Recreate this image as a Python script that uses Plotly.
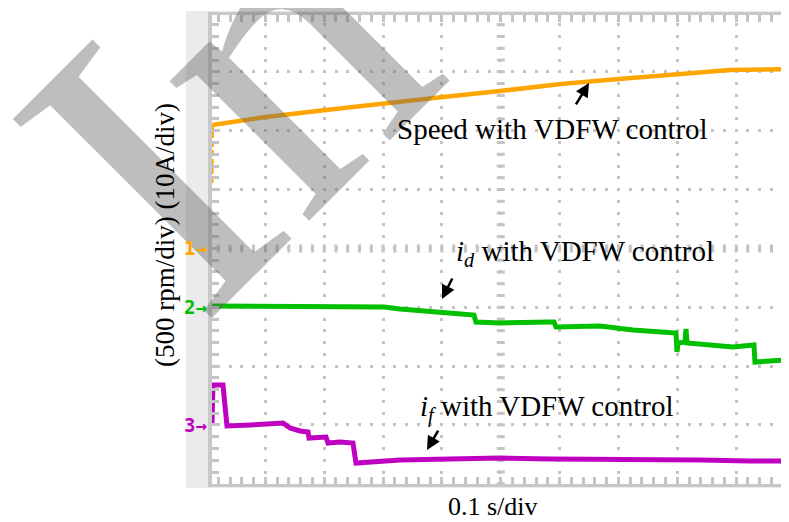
import plotly.graph_objects as go

# ---------------- data read from the scope screen ----------------
# time in seconds (0.1 s/div)
speed_t = [0.0093, 0.0102, 0.1011, 0.2031, 0.3016, 0.4019, 0.4987, 0.6024, 0.7009, 0.8012, 0.8895, 0.9898]
speed_rpm = [556, 1049, 1116, 1176, 1235, 1287, 1337, 1397, 1439, 1482, 1515, 1524]

id_t = [0.0093, 0.1011, 0.2031, 0.3016, 0.3288, 0.3849, 0.4477, 0.4545, 0.4579, 0.4987, 0.5837,
        0.5905, 0.5939, 0.6686, 0.7247, 0.7978, 0.7995, 0.8012, 0.8131, 0.8148, 0.8165, 0.8521,
        0.8946, 0.9303, 0.9320, 0.9864, 0.9898]
id_A = [0.21, 0.21, 0.21, 0.04, -0.30, -0.81, -1.32, -1.32, -2.51, -2.68, -2.51,
        -2.51, -3.35, -3.19, -3.87, -4.38, -7.60, -6.07, -5.90, -3.70, -6.07, -6.41,
        -6.75, -6.41, -9.30, -8.96, -8.62]

if_t = [0.0093, 0.0110, 0.0280, 0.0348, 0.0739, 0.1300, 0.1419, 0.1589, 0.1725, 0.1742, 0.2031,
        0.2065, 0.2268, 0.2489, 0.2540, 0.3288, 0.4138, 0.4987, 0.5837, 0.6686, 0.7536, 0.8386,
        0.9235, 0.9898]
if_A = [0.33, 6.79, 6.79, -0.18, -0.01, 0.33, -0.52, -1.03, -1.20, -2.22, -2.05,
        -3.07, -2.90, -3.07, -6.47, -5.96, -5.79, -5.62, -5.79, -5.79, -5.96, -5.96,
        -6.13, -6.13]

SPEED_SCALE = 500.0   # rpm/div
CURRENT_SCALE = 10.0  # A/div
CH1_OFFSET, CH2_OFFSET, CH3_OFFSET = 0.0, -1.0, -3.0   # channel ground markers (div)

speed_div = [v / SPEED_SCALE + CH1_OFFSET for v in speed_rpm]
id_div = [v / CURRENT_SCALE + CH2_OFFSET for v in id_A]
if_div = [v / CURRENT_SCALE + CH3_OFFSET for v in if_A]

ORANGE = "#FFA500"
GREEN = "#00C000"
MAGENTA = "#C000C0"
GRID = "#c4c4c4"
SERIF = "Liberation Serif, Times New Roman, serif"

# page body has an 8px default margin: the figure is drawn at (8, 8) in the window
OFF = 8
WIN_W, WIN_H = 789, 522
W, H = WIN_W - OFF, WIN_H - OFF
PLOT_L, PLOT_R, PLOT_T, PLOT_B = 212, 789, 15, 484   # window pixels
L, R, T, B = PLOT_L - OFF, WIN_W - PLOT_R, PLOT_T - OFF, WIN_H - PLOT_B
PW, PH = PLOT_R - PLOT_L, PLOT_B - PLOT_T
X0_PX, DIV_PX = 206.5, 58.85     # screen geometry of the graticule (window px)
Y0_PX = 13.0

def px_to_paper(px, py):
    return (px - PLOT_L) / PW, (PLOT_B - py) / PH

x_range = [(PLOT_L - X0_PX) / DIV_PX * 0.1, (PLOT_R - X0_PX) / DIV_PX * 0.1]
y_range = [4 - (PLOT_B - Y0_PX) / DIV_PX, 4 - (PLOT_T - Y0_PX) / DIV_PX]

fig = go.Figure()

fig.add_trace(go.Scatter(x=speed_t[:2], y=speed_div[:2], mode="lines",
                         line=dict(color=ORANGE, width=3, dash="6px,3px"), hoverinfo="skip"))
fig.add_trace(go.Scatter(x=speed_t[1:], y=speed_div[1:], mode="lines",
                         line=dict(color=ORANGE, width=4.5), hoverinfo="skip"))
fig.add_trace(go.Scatter(x=id_t, y=id_div, mode="lines",
                         line=dict(color=GREEN, width=5), hoverinfo="skip"))
fig.add_trace(go.Scatter(x=if_t, y=if_div, mode="lines",
                         line=dict(color=MAGENTA, width=5), hoverinfo="skip"))

# frame background
gx0, gy0 = px_to_paper(186, 488)
gx1, gy1 = px_to_paper(WIN_W + 5, 11)
fig.add_shape(type="rect", xref="paper", yref="paper", x0=gx0, y0=gy0, x1=gx1, y1=gy1,
              fillcolor="#ebebeb", line=dict(width=0), layer="below")
fig.add_shape(type="rect", xref="paper", yref="paper", x0=0, y0=0, x1=1.01, y1=1,
              fillcolor="white", line=dict(width=0), layer="below")

# centre cross-hair tick lines
half = 1.5 / DIV_PX
fig.add_shape(type="line", xref="x", yref="y", x0=(0.2 - half) * 0.1, y0=0,
              x1=x_range[1], y1=0, line=dict(color=GRID, width=8, dash="3px,8.77px"), layer="below")
fig.add_shape(type="line", xref="x", yref="y", x0=0.5, y0=4 - 0.2 + half,
              x1=0.5, y1=-4.1, line=dict(color=GRID, width=8, dash="3px,8.77px"), layer="below")

fig.update_layout(
    width=W, height=H,
    margin=dict(l=L, r=R, t=T, b=B),
    paper_bgcolor="white", plot_bgcolor="rgba(0,0,0,0)",
    showlegend=False,
    xaxis=dict(range=x_range, tick0=0, dtick=0.1, showticklabels=False,
               showgrid=True, gridcolor=GRID, gridwidth=3, griddash="0px,8.3px,3px,0.47px",
               ticks="inside", ticklen=7, tickwidth=3, tickcolor=GRID,
               minor=dict(dtick=0.02, ticks="inside", ticklen=7, tickwidth=3, tickcolor=GRID, showgrid=False),
               showline=True, linecolor="#c8c8c8", linewidth=3, mirror="ticks",
               zeroline=False, fixedrange=True),
    yaxis=dict(range=y_range, tick0=0, dtick=1, showticklabels=False,
               showgrid=True, gridcolor=GRID, gridwidth=3, griddash="0px,4.8px,3px,3.97px",
               ticks="inside", ticklen=7, tickwidth=3, tickcolor=GRID,
               minor=dict(dtick=0.2, ticks="inside", ticklen=7, tickwidth=3, tickcolor=GRID, showgrid=False),
               showline=True, linecolor="#c8c8c8", linewidth=4, mirror=False,
               zeroline=False, fixedrange=True),
)

ann = []
# watermark
wx, wy = px_to_paper(225, 100)
ann.append(dict(xref="paper", yref="paper", x=wx, y=wy, text="In", showarrow=False,
                textangle=-45, font=dict(family=SERIF, size=430, color="rgba(100,100,100,0.42)"),
                xanchor="center", yanchor="middle"))

# labels
def ann_text(px, py, text, size=29, angle=0):
    x, y = px_to_paper(px, py)
    return dict(xref="paper", yref="paper", x=x, y=y, text=text, showarrow=False,
                textangle=angle, font=dict(family=SERIF, size=size, color="black"),
                xanchor="center", yanchor="middle")

ann.append(ann_text(552.5, 129, "Speed with VDFW control"))
ann.append(ann_text(585, 253, "<i>i</i><sub><i>d</i></sub> with VDFW control"))
ann.append(ann_text(546.5, 408, "<i>i</i><sub><i>f</i></sub> with VDFW control"))
ann.append(ann_text(493, 506, "0.1 s/div", size=26))
ann.append(ann_text(165, 235, "(500 rpm/div) (10A/div)", size=27, angle=-90))

# arrows (head position in data units, tail offset in px)
for hx, hy, ax, ay in [(0.650, 2.811, -14, 23), (0.4002, -0.860, 11, -22), (0.3747, -3.426, 12, -21)]:
    ann.append(dict(xref="x", yref="y", x=hx, y=hy, ax=ax, ay=ay, text="", showarrow=True,
                    arrowhead=2, arrowsize=1.1, arrowwidth=2.5, arrowcolor="black"))

# channel markers
for label, off, col in [("1", CH1_OFFSET, ORANGE), ("2", CH2_OFFSET, GREEN), ("3", CH3_OFFSET, MAGENTA)]:
    mx, _ = px_to_paper(209, 0)
    ann.append(dict(xref="paper", yref="y", x=mx, y=off, text="<b>" + label + "→</b>", showarrow=False,
                    xanchor="right", yanchor="middle",
                    font=dict(family="DejaVu Sans Mono", size=19, color=col)))

fig.update_layout(annotations=ann)

fig.write_html("out.html")
